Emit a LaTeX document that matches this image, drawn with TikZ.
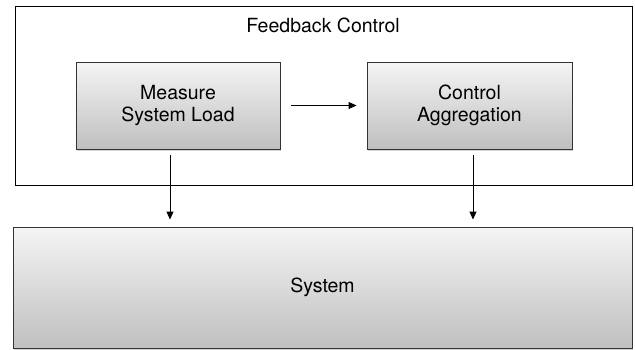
\documentclass[tikz,border=0pt]{standalone}
\usepackage{fontspec}
\setmainfont{TeX Gyre Heros}
\usetikzlibrary{shadows,arrows.meta}
\begin{document}
\begin{tikzpicture}[x=1pt,y=-1pt,
  txt/.style={font=\fontsize{19.5}{22}\selectfont},
  gbox/.style={txt,draw=black!80,line width=0.9pt,top color=white!96!black,bottom color=black!25,
    drop shadow={shadow xshift=1pt,shadow yshift=-1.5pt,opacity=0.35},
    align=center,inner sep=0pt},
  conn/.style={draw,line width=0.9pt,-{Triangle[length=8pt,width=7pt]}}]
\useasboundingbox (0,0) rectangle (635,349);
\node[draw,line width=0.9pt,minimum width=617pt,minimum height=179pt,inner sep=0pt] (fc) at (323.5,95.5) {};
\node[txt] (title) at (323,25) {Feedback Control};
\node[gbox,minimum width=204pt,minimum height=87pt] (m) at (178,105.5) {Measure\\System Load};
\node[gbox,minimum width=205pt,minimum height=87pt] (c) at (469.5,105.5) {Control\\Aggregation};
\node[gbox,minimum width=619pt,minimum height=121pt] (s) at (322.5,287.5) {System};
\coordinate (m1) at (170,155);
\coordinate (c1) at (473,155);
\draw[conn] ([xshift=11pt]m.east) -- ([xshift=-10pt]c.west);
\draw[conn] (m1) -- ([yshift=7pt]m1 |- s.north);
\draw[conn] (c1) -- ([yshift=7pt]c1 |- s.north);
\end{tikzpicture}
\end{document}
